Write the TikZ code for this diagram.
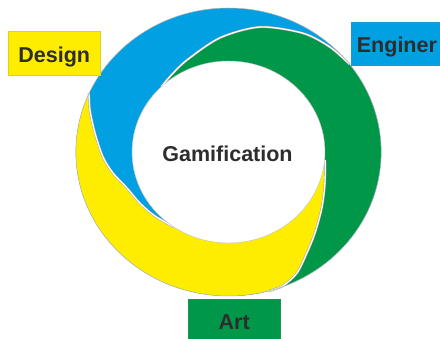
\documentclass[tikz,border=0pt]{standalone}
\usepackage{fontspec}
\setmainfont{Liberation Sans}
\definecolor{ylw}{RGB}{255,237,0}
\definecolor{blu}{RGB}{0,160,227}
\definecolor{grn}{RGB}{0,152,72}
\definecolor{txt}{RGB}{45,45,45}
\tikzset{
  tag/.style={rectangle, inner sep=0pt, font=\fontsize{21.5}{24}\selectfont\bfseries, text=txt, line width=0.4pt},
  seam/.style={draw=gray!75, line width=0.45pt, double=white, double distance=1.3pt},
  rim/.style={draw=gray!60, line width=0.5pt},
  hole/.style={fill=white, draw=gray!50, line width=0.4pt},
}
\begin{document}
\begin{tikzpicture}[x=1pt,y=1pt]
\useasboundingbox (0,0) rectangle (440,-339);
\begin{scope}[shift={(228.5,-152)}, xscale=1.06]
  % base
  \fill[blu] (0,0) circle[radius=144pt];
  % green piece
  \fill[grn] (270:144) arc[start angle=270, end angle=397.5, radius=144pt]
    -- plot[smooth] coordinates {(37.5:144) (47.6:142) (59.4:138) (76.6:128.5) (94:114.5) (113:100) (125:94) (134:91)}
    -- (0,0) -- cycle;
  % yellow piece
  \fill[ylw] (156:144) arc[start angle=156, end angle=285, radius=144pt]
    -- plot[smooth] coordinates {(285:144) (290.8:143.5) (298.1:137.2) (306.2:125.2) (315.2:115) (328:104) (341.2:96.1) (355:91.5)}
    -- (0,0) -- cycle;
  % blue over yellow on the left
  \fill[blu] plot[smooth] coordinates {(156:144) (162.2:137.3) (171.4:127.4) (182.4:118.5) (190.9:111) (200.6:102.3) (211.4:98) (222.4:94.5) (236:91)}
    -- (0,0) -- (145:125) -- cycle;
  % seams
  \draw[seam] plot[smooth] coordinates {(37.5:144) (47.6:142) (59.4:138) (76.6:128.5) (94:114.5) (113:100) (125:94) (134:91)};
  \draw[seam] plot[smooth] coordinates {(285:144) (290.8:143.5) (298.1:137.2) (306.2:125.2) (315.2:115) (328:104) (341.2:96.1) (355:91.5)};
  \draw[seam] plot[smooth] coordinates {(156:144) (162.2:137.3) (171.4:127.4) (182.4:118.5) (190.9:111) (200.6:102.3) (211.4:98) (222.4:94.5) (236:91)};
  \draw[rim] (0,0) circle[radius=144pt];
  \filldraw[hole] (0,0) circle[radius=91pt];
\end{scope}
\node[tag, anchor=base] (gam) at (227.5,-161.7) {Gamification};
\node[tag, fill=ylw, draw=ylw!75!gray, minimum width=91.7pt, minimum height=44pt,
      text height=19.4pt, text depth=0pt] (design) at (54.2,-53) {Design};
\node[tag, fill=blu, draw=blu!75!gray, anchor=west, minimum height=42.3pt,
      text height=17.7pt, text depth=0pt, inner xsep=5.7pt, text width=85pt, align=left] (eng) at (351,-43.85) {Enginer};
\node[tag, fill=grn, draw=grn!75!gray, minimum width=91.7pt, minimum height=44pt,
      text height=16pt, text depth=0pt] (art) at (234.15,-321.3) {Art};
\end{tikzpicture}
\end{document}
